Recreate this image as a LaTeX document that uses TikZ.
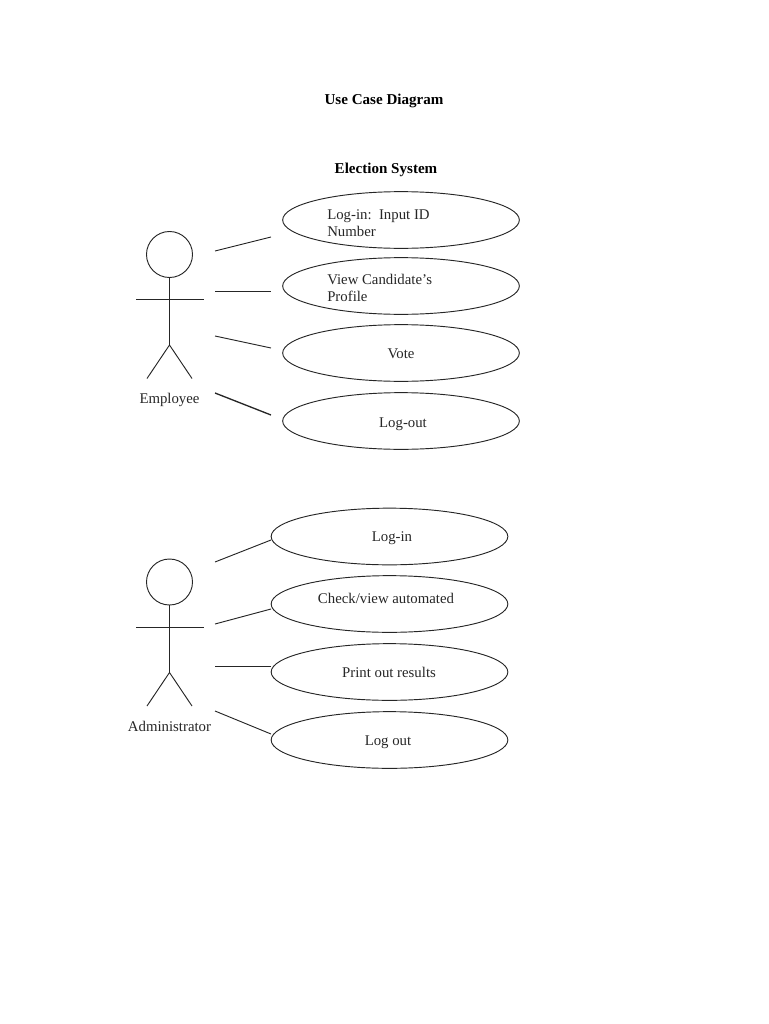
\documentclass[tikz,border=0pt]{standalone}
\usepackage{fontspec}
\setmainfont{Liberation Serif}
\usetikzlibrary{shapes.geometric}
\tikzset{
  usecase/.style={draw=black!85,ellipse,minimum width=177.5pt,minimum height=42.5pt,inner sep=0pt,line width=0.7pt},
  actorhead/.style={draw=black!85,circle,minimum size=34.5pt,inner sep=0pt,line width=0.7pt},
  limb/.style={draw=black!85,line width=0.7pt},
  assoc/.style={draw=black!85,line width=0.7pt},
  txt/.style={inner sep=0pt,text=black!85,font=\fontsize{11.1pt}{13pt}\selectfont,anchor=base},
  txtl/.style={txt,anchor=base west},
  ttl/.style={txt,text=black,font=\fontsize{11.3pt}{13pt}\selectfont\bfseries}
}
\begin{document}
\begin{tikzpicture}[x=0.75pt,y=-0.75pt]
\useasboundingbox (0,0) rectangle (768,1024);
\node[ttl] (title) at (384,104) {Use Case Diagram};
\node[ttl] (sys) at (386,173) {Election System};
% Employee
\node[actorhead] (h1) at (169.5,254.5) {};
\coordinate (hip1) at (169.5,345);
\coordinate (al1) at (136,299);
\coordinate (ar1) at (203.5,299);
\coordinate (ll1) at (147,378.5);
\coordinate (lr1) at (192,378.5);
\draw[limb] (h1.south) -- (hip1);
\draw[limb] (al1) -- (ar1);
\draw[limb] (ll1) -- (hip1) -- (lr1);
\node[txt] (emp) at (169.5,403.5) {Employee};
\node[usecase] (u1) at (401,220) {};
\node[usecase] (u2) at (401,286) {};
\node[usecase] (u3) at (401,353) {};
\node[usecase] (u4) at (401,421) {};
\node[txtl] (t1a) at (327,219) {Log-in:\ \ Input ID};
\node[txtl] (t1b) at (327,236) {Number};
\node[txtl] (t2a) at (327,284) {View Candidate’s};
\node[txtl] (t2b) at (327,301) {Profile};
\node[txt] (t3) at (401,358.5) {Vote};
\node[txt] (t4) at (403,427) {Log-out};
\coordinate (a1s) at (215,251);
\coordinate (a1e) at (271,237);
\coordinate (a2s) at (215,291.5);
\coordinate (a2e) at (271,291.5);
\coordinate (a3s) at (215,336);
\coordinate (a3e) at (271,348);
\coordinate (a4s) at (215,393);
\coordinate (a4e) at (271,415);
\draw[assoc] (a1s) -- (a1e);
\draw[assoc] (a2s) -- (a2e);
\draw[assoc] (a3s) -- (a3e);
\draw[assoc,line width=1pt] (a4s) -- (a4e);
% Administrator
\node[actorhead] (h2) at (169.5,582) {};
\coordinate (hip2) at (169.5,672.5);
\coordinate (al2) at (136,627);
\coordinate (ar2) at (203.5,627);
\coordinate (ll2) at (147,706);
\coordinate (lr2) at (192,706);
\draw[limb] (h2.south) -- (hip2);
\draw[limb] (al2) -- (ar2);
\draw[limb] (ll2) -- (hip2) -- (lr2);
\node[txt] (adm) at (169.5,731.5) {Administrator};
\node[usecase] (v1) at (389.5,536.5) {};
\node[usecase] (v2) at (389.5,604) {};
\node[usecase] (v3) at (389.5,672) {};
\node[usecase] (v4) at (389.5,740) {};
\node[txt] (s1) at (392,541.5) {Log-in};
\node[txt] (s2) at (386,603) {Check/view automated};
\node[txt] (s3) at (389,677) {Print out results};
\node[txt] (s4) at (388,745.5) {Log out};
\coordinate (b1s) at (215,562);
\coordinate (b1e) at (271,540);
\coordinate (b2s) at (215,624);
\coordinate (b2e) at (271,609);
\coordinate (b3s) at (215,666);
\coordinate (b3e) at (271,666);
\coordinate (b4s) at (215,711);
\coordinate (b4e) at (271,734);
\draw[assoc] (b1s) -- (b1e);
\draw[assoc] (b2s) -- (b2e);
\draw[assoc] (b3s) -- (b3e);
\draw[assoc] (b4s) -- (b4e);
\end{tikzpicture}
\end{document}
